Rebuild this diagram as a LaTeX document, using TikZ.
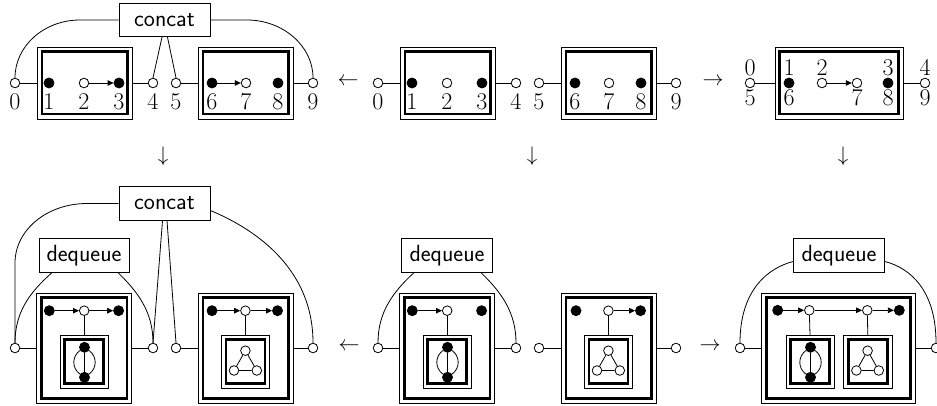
\documentclass[tikz,border=0pt]{standalone}
\usetikzlibrary{arrows.meta}
\newcommand\dframe[5]{%
  \node[frameout,minimum width=#4pt,minimum height=#5pt] (#1) at (#2,#3) {};
  \node[framein,minimum width={(#4-9.4)*1pt},minimum height={(#5-9.4)*1pt}] (#1i) at (#2,#3) {};}
\begin{document}
\begin{tikzpicture}[x=1pt,y=-1pt,
  wire/.style={line width=0.8pt},
  port/.style={circle,draw,fill=white,line width=0.8pt,inner sep=0pt,minimum size=9.6pt},
  bdot/.style={circle,fill=black,draw,line width=0.8pt,inner sep=0pt,minimum size=10pt},
  wdot/.style={port},
  num/.style={font=\fontsize{24}{28}\selectfont,inner sep=0pt,anchor=base},
  opbox/.style={draw,line width=0.8pt,font=\sffamily\fontsize{23.5}{28}\selectfont,minimum width=91pt,minimum height=33.5pt,inner sep=0pt},
  frameout/.style={draw,line width=0.55pt,inner sep=0pt},
  framein/.style={draw,line width=2.7pt,inner sep=0pt},
  arr/.style={-{Triangle[length=6pt,width=5.5pt]},line width=0.8pt},
  sym/.style={scale=2.1,inner sep=0pt}
]
\useasboundingbox (0,0) rectangle (937,406);

% ---------- top left ----------
\node[opbox] (ca) at (164.5,20) {concat};
\dframe{aA}{84.5}{83}{94.7}{71.7}
\dframe{aB}{245.5}{83}{94.7}{71.7}
\node[port] (a0) at (15,83) {};
\node[bdot] (a1) at (49,83) {};
\node[wdot] (a2) at (84,83) {};
\node[bdot] (a3) at (119,83) {};
\node[port] (a4) at (153,83) {};
\node[port] (a5) at (176,83) {};
\node[bdot] (a6) at (212,83) {};
\node[wdot] (a7) at (246,83) {};
\node[bdot] (a8) at (278,83) {};
\node[port] (a9) at (313,83) {};
\foreach \x/\t in {15/0,49/1,84/2,119/3,153/4,176/5,212/6,246/7,278/8,313/9}
  \node[num] (la\t) at (\x,109.5) {\t};
\draw[wire] (a0) -- (aA) (aA) -- (a4) (a5) -- (aB) (aB) -- (a9);
\draw[arr] (a2) -- (a3);
\draw[arr] (a6) -- (a7);
\draw[wire] (ca.west) -- (80,20) .. controls (44,20) and (15,46) .. (a0.north);
\draw[wire] (ca.east) -- (247,20) .. controls (283,20) and (313,46) .. (a9.north);
\draw[wire] ([xshift=-2.5pt]ca.south) -- (a4.north);
\draw[wire] ([xshift=3pt]ca.south) -- (a5.north);

% ---------- top middle ----------
\begin{scope}[xshift=363pt]
\dframe{bA}{84.5}{83}{94.7}{71.7}
\dframe{bB}{245.5}{83}{94.7}{71.7}
\node[port] (b0) at (15,83) {};
\node[bdot] (b1) at (49,83) {};
\node[wdot] (b2) at (84,83) {};
\node[bdot] (b3) at (119,83) {};
\node[port] (b4) at (153,83) {};
\node[port] (b5) at (176,83) {};
\node[bdot] (b6) at (212,83) {};
\node[wdot] (b7) at (246,83) {};
\node[bdot] (b8) at (278,83) {};
\node[port] (b9) at (313,83) {};
\foreach \x/\t in {15/0,49/1,84/2,119/3,153/4,176/5,212/6,246/7,278/8,313/9}
  \node[num] (lb\t) at (\x,109.5) {\t};
\draw[wire] (b0) -- (bA) (bA) -- (b4) (b5) -- (bB) (bB) -- (b9);
\end{scope}

% ---------- top right ----------
\dframe{cA}{839.2}{83}{128.3}{71.7}
\node[port] (c0) at (750,83) {};
\node[bdot] (c1) at (789,83) {};
\node[wdot] (c2) at (822,83) {};
\node[wdot] (c7) at (857,83) {};
\node[bdot] (c3) at (888,83) {};
\node[port] (c4) at (925,83) {};
\foreach \x/\t in {750/0,789/1,822/2,888/3,925/4}
  \node[num] (lcu\t) at (\x,76) {\t};
\foreach \x/\t in {750/5,789/6,857/7,888/8,925/9}
  \node[num] (lcd\t) at (\x,105.5) {\t};
\draw[wire] (c0) -- (cA) (cA) -- (c4);
\draw[arr] (c2) -- (c7);

% ---------- arrows between ----------
\node[sym] (s1) at (348,82) {$\leftarrow$};
\node[sym] (s2) at (713,82) {$\rightarrow$};
\node[sym] (s3) at (163,156) {$\downarrow$};
\node[sym] (s4) at (532,156) {$\downarrow$};
\node[sym] (s5) at (843,156) {$\downarrow$};
\node[sym] (s6) at (349,347) {$\leftarrow$};
\node[sym] (s7) at (710,347) {$\rightarrow$};

% ---------- bottom left ----------
\node[opbox] (dc) at (164.5,203.5) {concat};
\node[opbox,minimum width=90pt] (dq) at (84,255.5) {dequeue};
\dframe{dA}{84.2}{348}{95}{110}
\dframe{dB}{245.8}{348}{95}{110}
\dframe{dAs}{84.2}{361.7}{48.3}{53.3}
\dframe{dBs}{245.4}{361.7}{48.3}{53.3}
\node[port] (d0) at (15,348) {};
\node[port] (d4) at (153,348) {};
\node[port] (d5) at (176,348) {};
\node[port] (d9) at (313,348) {};
\node[bdot] (dA1) at (49.3,310.7) {};
\node[wdot] (dA2) at (84.2,310.7) {};
\node[bdot] (dA3) at (118.6,310.7) {};
\node[bdot] (dB1) at (212,310.7) {};
\node[wdot] (dB2) at (245.4,310.7) {};
\node[bdot] (dB3) at (277.5,310.7) {};
\node[bdot] (dAt) at (84.5,347.3) {};
\node[bdot] (dAb) at (84.5,377.3) {};
\node[wdot] (dT1) at (245.4,350.7) {};
\node[wdot] (dT2) at (234,370.5) {};
\node[wdot] (dT3) at (256.8,370.5) {};
\draw[arr] (dA1) -- (dA2);
\draw[arr] (dA2) -- (dA3);
\draw[arr] (dB1) -- (dB2);
\draw[arr] (dB2) -- (dB3);
\draw[wire] (dA2) -- (dAs.north) (dB2) -- (dBs.north);
\draw[wire] (dAt) -- (dAb) (dAt) to[bend left=55,looseness=1.1] (dAb) (dAt) to[bend right=55,looseness=1.1] (dAb);
\draw[wire] (dT1) -- (dT2) (dT2) -- (dT3) (dT3) -- (dT1);
\draw[wire] (d0) -- (dA) (dA) -- (d4) (d5) -- (dB) (dB) -- (d9);
\draw[wire] (dc.west) -- (87,203.5) .. controls (47,203.5) and (15,230) .. (15,263) -- (d0.north);
\draw[wire] ([yshift=-7pt]dc.east) .. controls (250,227) and (313,265) .. (d9.north);
\draw[wire] ([xshift=-2pt]dc.south) -- (d4.north);
\draw[wire] ([xshift=2.5pt]dc.south) -- (d5.north);
\draw[wire] ([xshift=-32pt]dq.south) .. controls (30,292) and (15,312) .. (d0.north);
\draw[wire] ([xshift=34pt]dq.south) .. controls (138,292) and (153,312) .. (d4.north);

% ---------- bottom middle ----------
\begin{scope}[xshift=363pt]
\node[opbox] (eq) at (84,255.5) {dequeue};
\dframe{eA}{84.2}{348}{95}{110}
\dframe{eB}{245.8}{348}{95}{110}
\dframe{eAs}{84.2}{361.7}{48.3}{53.3}
\dframe{eBs}{245.4}{361.7}{48.3}{53.3}
\node[port] (e0) at (15,348) {};
\node[port] (e4) at (153,348) {};
\node[port] (e5) at (176,348) {};
\node[port] (e9) at (313,348) {};
\node[bdot] (eA1) at (49.3,310.7) {};
\node[wdot] (eA2) at (84.2,310.7) {};
\node[bdot] (eA3) at (118.6,310.7) {};
\node[bdot] (eB1) at (213,310.7) {};
\node[wdot] (eB2) at (245.4,310.7) {};
\node[bdot] (eB3) at (277.5,310.7) {};
\node[bdot] (eAt) at (84.5,347.3) {};
\node[bdot] (eAb) at (84.5,377.3) {};
\node[wdot] (eT1) at (245.4,350.7) {};
\node[wdot] (eT2) at (234,370.5) {};
\node[wdot] (eT3) at (256.8,370.5) {};
\draw[arr] (eA1) -- (eA2);
\draw[arr] (eB2) -- (eB3);
\draw[wire] (eA2) -- (eAs.north) (eB2) -- (eBs.north);
\draw[wire] (eAt) -- (eAb) (eAt) to[bend left=55,looseness=1.1] (eAb) (eAt) to[bend right=55,looseness=1.1] (eAb);
\draw[wire] (eT1) -- (eT2) (eT2) -- (eT3) (eT3) -- (eT1);
\draw[wire] (e0) -- (eA) (eA) -- (e4) (e5) -- (eB) (eB) -- (e9);
\draw[wire] ([xshift=-33pt]eq.south) .. controls (30,292) and (15,312) .. (e0.north);
\draw[wire] ([xshift=34pt]eq.south) .. controls (138,292) and (153,312) .. (e4.north);
\end{scope}

% ---------- bottom right ----------
\node[opbox] (fq) at (839,255.5) {dequeue};
\dframe{fA}{838.3}{348}{153.3}{110}
\dframe{fS1}{810}{361.7}{48.3}{53.3}
\dframe{fS2}{867.8}{361.7}{48.3}{53.3}
\node[port] (f0) at (740,348) {};
\node[port] (f9) at (936,348) {};
\node[bdot] (f1) at (777.7,310.3) {};
\node[wdot] (f2) at (809.3,310.3) {};
\node[wdot] (f3) at (867.3,310.3) {};
\node[bdot] (f4) at (899.3,310.3) {};
\node[bdot] (fAt) at (810.5,347.3) {};
\node[bdot] (fAb) at (810.5,377.3) {};
\node[wdot] (fT1) at (867.6,350.7) {};
\node[wdot] (fT2) at (856.4,370.5) {};
\node[wdot] (fT3) at (878.8,370.5) {};
\draw[arr] (f1) -- (f2);
\draw[arr] (f2) -- (f3);
\draw[arr] (f3) -- (f4);
\draw[wire] (f2) -- (fS1.north) (f3) -- (fS2.north);
\draw[wire] (fAt) -- (fAb) (fAt) to[bend left=55,looseness=1.1] (fAb) (fAt) to[bend right=55,looseness=1.1] (fAb);
\draw[wire] (fT1) -- (fT2) (fT2) -- (fT3) (fT3) -- (fT1);
\draw[wire] (f0) -- (fA) (fA) -- (f9);
\draw[wire] ([yshift=-6pt]fq.west) .. controls (768,268) and (740,290) .. (f0.north);
\draw[wire] ([yshift=-6pt]fq.east) .. controls (910,268) and (936,290) .. (f9.north);
\end{tikzpicture}
\end{document}
